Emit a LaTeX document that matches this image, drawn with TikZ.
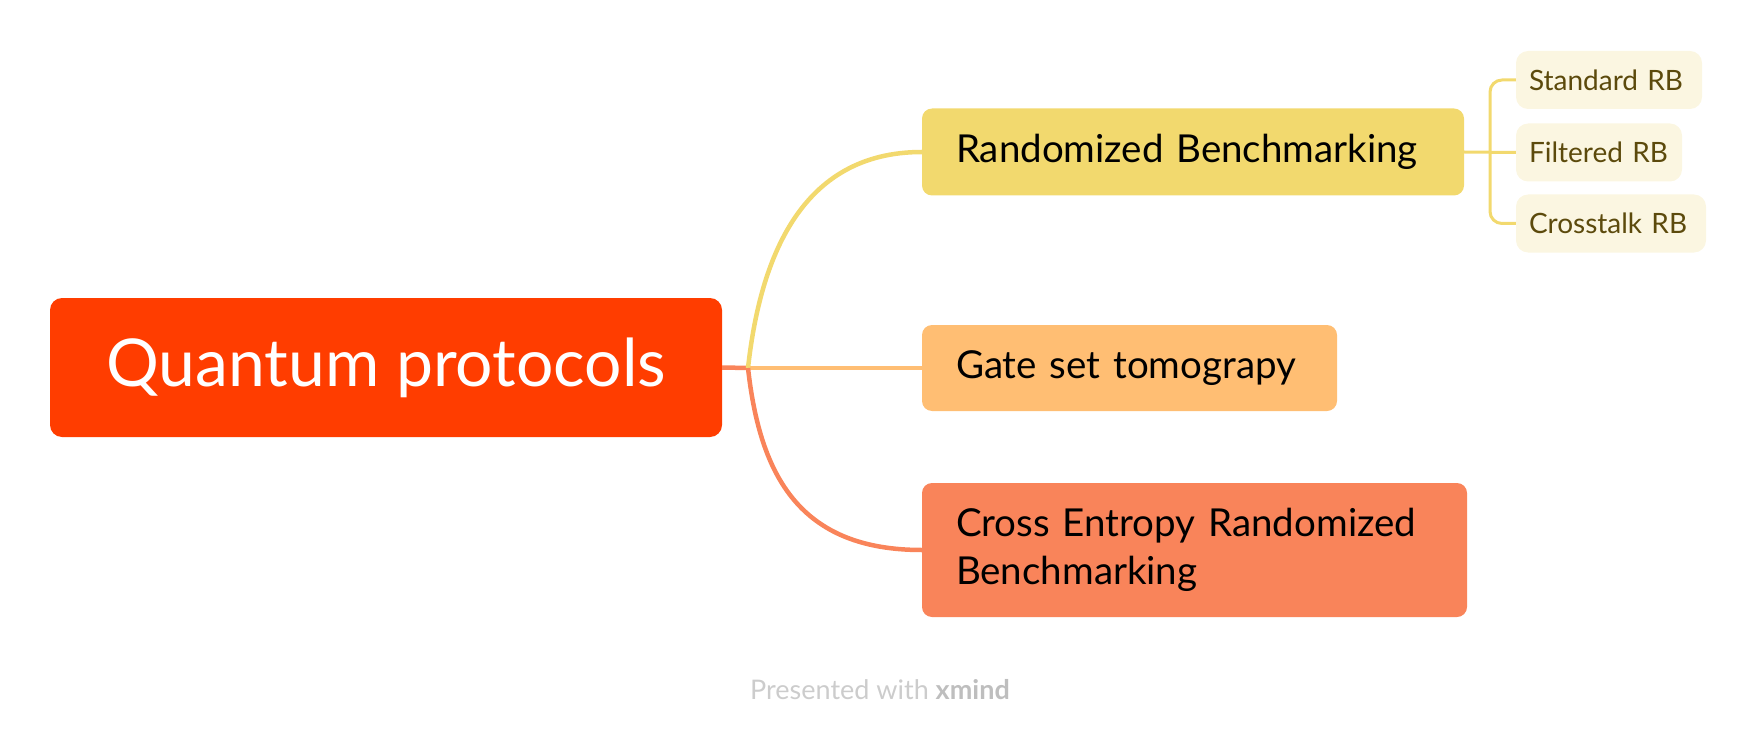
\documentclass[tikz,border=0pt]{standalone}
\usepackage{fontspec}
\setmainfont{Lato}
\usetikzlibrary{positioning}
\definecolor{rootred}{RGB}{255,61,0}
\definecolor{rbyellow}{RGB}{242,217,110}
\definecolor{gstorange}{RGB}{255,190,115}
\definecolor{xebsalmon}{RGB}{249,132,90}
\definecolor{subcream}{RGB}{251,246,225}
\definecolor{subtext}{RGB}{92,74,12}
\definecolor{footgray}{RGB}{204,204,204}
\definecolor{footbold}{RGB}{190,190,190}

\begin{document}
\begin{tikzpicture}[x=1pt,y=-1pt,
  topic/.style={rectangle,rounded corners=10pt,inner ysep=0pt,inner xsep=34pt,align=left,font=\fontsize{38.5}{48}\selectfont},
  subtopic/.style={rectangle,rounded corners=12pt,fill=subcream,text=subtext,inner ysep=0pt,inner xsep=13pt,align=left,minimum height=58pt,font=\fontsize{28}{34}\selectfont},
  branch/.style={line width=4.5pt},
  twig/.style={line width=3pt,rbyellow,rounded corners=12pt}]
\useasboundingbox (0,0) rectangle (1756,738);
\node at (386,367.5)[rectangle,rounded corners=12pt,fill=rootred,text=white,minimum width=672pt,minimum height=139pt,font=\fontsize{66}{79}\selectfont](root){Quantum protocols};
\node at (1193,152)[topic,fill=rbyellow,text width=474pt,minimum height=87pt](rb){Randomized Benchmarking};
\node at (1129.5,368)[topic,fill=gstorange,text width=347pt,minimum height=86pt](gst){Gate set tomograpy};
\node at (1194.5,550)[topic,fill=xebsalmon,text width=477pt,minimum height=134pt](xeb){Cross Entropy Randomized\\Benchmarking};
\node at (1609,80)[subtopic,text width=160pt](std){Standard RB};
\node at (1599,152.5)[subtopic,text width=140pt](filt){Filtered RB};
\node at (1611,223.5)[subtopic,text width=164pt](xtalk){Crosstalk RB};
\coordinate (fork) at (748,368);
\coordinate (brk) at (1490,152);
% branches from the root
\draw[branch,xebsalmon] (root.east) -- (fork);
\draw[branch,gstorange] (fork) -- (gst.west);
\draw[branch,rbyellow] (fork) .. controls +(12,-108) and +(-122,0) .. (rb.west);
\draw[branch,xebsalmon] (fork) .. controls +(12,108) and +(-122,0) .. (xeb.west);
% sub topics of RB
\draw[twig] (rb.east) -- (filt.west);
\draw[twig] (std.west) -| (brk) |- (xtalk.west);
\node at (880,690)[font=\fontsize{27}{32}\selectfont,text=footgray](footer){Presented with \textcolor{footbold}{\bfseries xmind}};
\end{tikzpicture}
\end{document}
